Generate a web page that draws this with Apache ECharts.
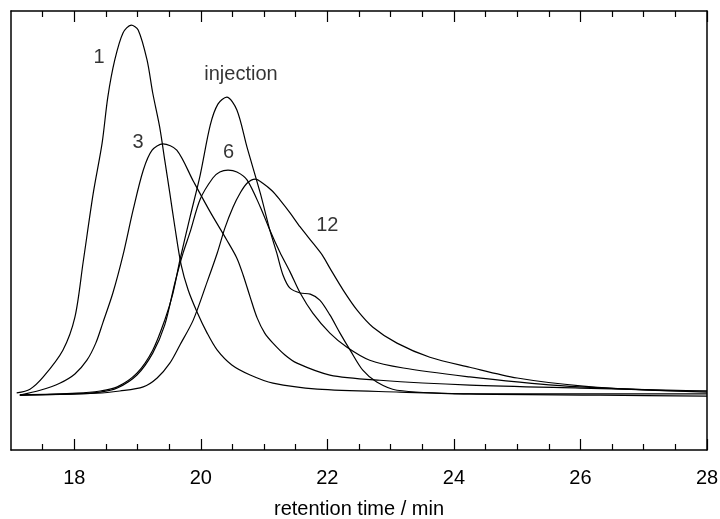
<!DOCTYPE html>
<html>
<head>
<meta charset="utf-8">
<script src="https://cdn.jsdelivr.net/npm/echarts@6/dist/echarts.min.js"></script>
<style>
html,body{margin:0;padding:0;background:#fff;}
#chart{width:720px;height:519px;}
</style>
</head>
<body>
<div id="chart"></div>
<script>
// retention time (min), detector signal (relative units)
const curve1 = [[17.09,0.6],[17.30,1.6],[17.51,4.9],[17.82,12.1],[18.01,21.0],[18.14,35.8],[18.30,54.4],[18.44,67.9],[18.53,80.3],[18.64,90.3],[18.77,97.6],[18.90,99.7],[19.01,98.4],[19.15,90.3],[19.24,81.4],[19.35,72.2],[19.43,63.3],[19.51,54.4],[19.59,45.3],[19.69,35.0],[19.80,28.3],[19.94,22.4],[20.10,16.7],[20.26,12.1],[20.49,8.1],[20.78,5.4],[21.14,3.2],[21.84,1.6],[23.15,0.8],[24.25,0.3],[26.31,0.3],[28.0,0.3]];
const curve3 = [[17.14,0],[17.46,1.3],[17.77,3.2],[18.01,5.7],[18.20,9.4],[18.34,14.0],[18.45,19.4],[18.61,27.5],[18.77,37.7],[18.93,49.9],[19.09,60.6],[19.23,66.0],[19.40,67.7],[19.62,66.0],[19.88,57.7],[20.15,49.3],[20.41,41.8],[20.57,36.9],[20.67,32.3],[20.78,26.4],[20.89,20.8],[21.01,16.7],[21.14,14.0],[21.33,10.8],[21.52,8.6],[22.04,5.4],[22.83,4.0],[24.25,2.7],[25.99,1.9],[28.0,1.1]];
const curveInjection = [[17.14,0],[18.04,0.5],[18.41,1.1],[18.68,2.2],[18.99,5.9],[19.24,12.1],[19.43,20.2],[19.56,27.5],[19.67,36.4],[19.83,48.0],[19.99,59.3],[20.15,72.8],[20.27,78.4],[20.41,80.3],[20.57,76.8],[20.73,66.8],[20.94,54.4],[21.09,44.5],[21.20,38.3],[21.30,32.3],[21.41,28.8],[21.57,27.5],[21.73,27.2],[21.88,25.6],[22.04,21.6],[22.20,16.7],[22.36,12.1],[22.56,6.7],[22.78,3.5],[23.10,1.3],[24.25,0.3],[26.31,0],[28.0,-0.3]];
const curve6 = [[17.14,0],[18.04,0.3],[18.41,0.8],[18.68,1.9],[18.99,5.4],[19.24,11.3],[19.43,18.9],[19.59,30.2],[19.72,38.3],[19.83,43.9],[19.99,52.8],[20.19,58.5],[20.30,60.1],[20.43,60.6],[20.57,60.1],[20.73,58.0],[20.94,50.7],[21.09,44.5],[21.25,38.5],[21.41,33.2],[21.57,27.5],[21.77,22.1],[22.04,16.7],[22.31,12.9],[22.67,9.4],[23.20,7.3],[24.25,4.9],[25.04,3.5],[25.99,2.2],[28.0,0.8]];
const curve12 = [[17.14,0],[18.36,0.5],[18.72,1.1],[19.09,2.2],[19.31,4.6],[19.51,8.6],[19.67,13.5],[19.88,20.2],[20.10,30.5],[20.26,38.3],[20.38,45.0],[20.51,50.7],[20.62,54.4],[20.73,57.1],[20.86,58.2],[20.98,57.1],[21.13,55.0],[21.25,52.6],[21.41,49.1],[21.57,45.3],[21.77,41.0],[21.92,37.7],[22.04,34.2],[22.25,28.3],[22.47,22.9],[22.72,18.3],[23.10,14.0],[23.62,10.2],[24.25,7.5],[25.0,4.6],[26.04,2.4],[27.1,1.3],[28.0,1.1]];

const curveLabels = [
  {name:'1', value:[18.39,91.1]},
  {name:'3', value:[19.01,68.2]},
  {name:'injection', value:[20.635,86.5]},
  {name:'6', value:[20.44,65.4]},
  {name:'12', value:[22.0,45.7]}
];
const majorTicks = [18,20,22,24,26,28];
const minorTicks = [17.5,18.5,19,19.5,20.5,21,21.5,22.5,23,23.5,24.5,25,25.5,26.5,27,27.5];
const xLabel = 'retention time / min';

const FONT = 'Liberation Sans, Arial, Helvetica, sans-serif';
const chart = echarts.init(document.getElementById('chart'));

function xa(pos, ticks, len, showLine, showLabel){
  return {
    type:'value', position:pos, min:17, max:28, gridIndex:0,
    axisLine:{show:showLine, onZero:false, lineStyle:{color:'#000', width:1.5}},
    axisTick:{show:true, inside:true, length:len, customValues:ticks, lineStyle:{color:'#000', width:1.2}},
    axisLabel:{show:showLabel, customValues:majorTicks, color:'#000', fontSize:20, fontFamily:FONT, margin:18},
    splitLine:{show:false},
    name: showLabel ? xLabel : '',
    nameLocation:'middle', nameGap:49,
    nameTextStyle:{color:'#000', fontSize:20, fontFamily:FONT}
  };
}
function ya(pos){
  return {
    type:'value', position:pos, min:-14.8, max:103.5,
    axisLine:{show:true, onZero:false, lineStyle:{color:'#000', width:1.5}},
    axisTick:{show:false}, axisLabel:{show:false}, splitLine:{show:false}
  };
}
function curve(data){
  return {type:'line', data:data, xAxisIndex:0, yAxisIndex:0, showSymbol:false, symbol:'none',
    smooth:0.3, lineStyle:{color:'#000', width:1.2}, silent:true, animation:false};
}

chart.setOption({
  animation:false,
  backgroundColor:'#fff',
  grid:{left:11, right:13, top:11, bottom:69, containLabel:false, outerBoundsMode:'none'},
  xAxis:[
    xa('bottom', majorTicks, 11, true, true),
    xa('bottom', minorTicks, 6, false, false),
    xa('top', majorTicks, 11, true, false),
    xa('top', minorTicks, 6, false, false)
  ],
  yAxis:[ya('left'), ya('right')],
  series:[
    curve(curve1), curve(curve3), curve(curveInjection), curve(curve6), curve(curve12),
    {type:'scatter', data:curveLabels, xAxisIndex:0, yAxisIndex:0, symbolSize:1,
     itemStyle:{color:'rgba(0,0,0,0)'}, silent:true,
     label:{show:true, position:'inside', formatter:'{b}', color:'#000', fontSize:20, fontFamily:FONT}}
  ]
});
</script>
</body>
</html>
